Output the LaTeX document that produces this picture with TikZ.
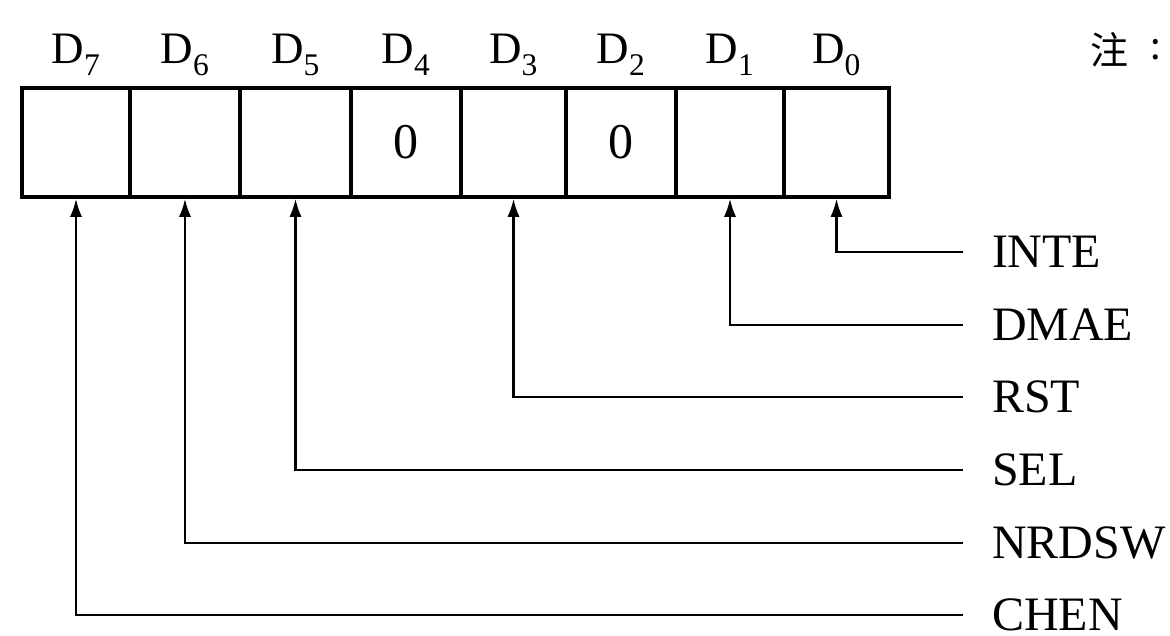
\documentclass[tikz,border=0pt]{standalone}
\usepackage{fontspec}
\setmainfont{Liberation Serif}
\newfontfamily\cjk{Noto Sans CJK SC}
\usetikzlibrary{arrows.meta}
\begin{document}
\begin{tikzpicture}[x=1pt,y=-1pt,
  cell/.style={draw, line width=3.5pt, inner sep=0pt, minimum height=109pt,
    font=\fontsize{50}{54}\selectfont},
  bitlab/.style={font=\fontsize{45}{50}\selectfont, inner sep=0pt, anchor=base},
  sig/.style={font=\fontsize{48}{52}\selectfont, inner sep=0pt, anchor=west, outer xsep=29pt},
  conn/.style={line width=2.2pt, -{Latex[length=18pt,width=12pt]}}]
\useasboundingbox (0,0) rectangle (1170,635);
\fill[white] (0,0) rectangle (1170,635);
% register cells
\foreach \l/\r/\n/\v in {22/130/7/,130/240/6/,240/351/5/,351/461/4/0,461/566/3/,566/676/2/0,676/784/1/,784/889/0/}{
  \node[cell, minimum width={\r-\l}] (c\n) at ({(\l+\r)/2},142.5) {\v};
  \node[bitlab] (d\n) at ({(\l+\r)/2},63) {D\textsubscript{\n}};
}
% note
\node[font=\cjk\fontsize{38}{40}\selectfont, anchor=west, inner sep=0pt] (note) at (1090,50) {注\kern22pt\raisebox{5pt}{:}};
% signal labels
\node[sig] (sINTE) at (963,252) {INTE};
\node[sig] (sDMAE) at (963,325) {DMAE};
\node[sig] (sRST) at (963,397) {RST};
\node[sig] (sSEL) at (963,470) {SEL};
\node[sig] (sNRDSW) at (963,543) {NRDSW};
\node[sig] (sCHEN) at (963,615) {CHEN};
% connectors
\draw[conn] (sINTE.west) -| (c0.south);
\draw[conn] (sDMAE.west) -| (c1.south);
\draw[conn] (sRST.west) -| (c3.south);
\draw[conn] (sSEL.west) -| (c5.south);
\draw[conn] (sNRDSW.west) -| (c6.south);
\draw[conn] (sCHEN.west) -| (c7.south);
\end{tikzpicture}
\end{document}
